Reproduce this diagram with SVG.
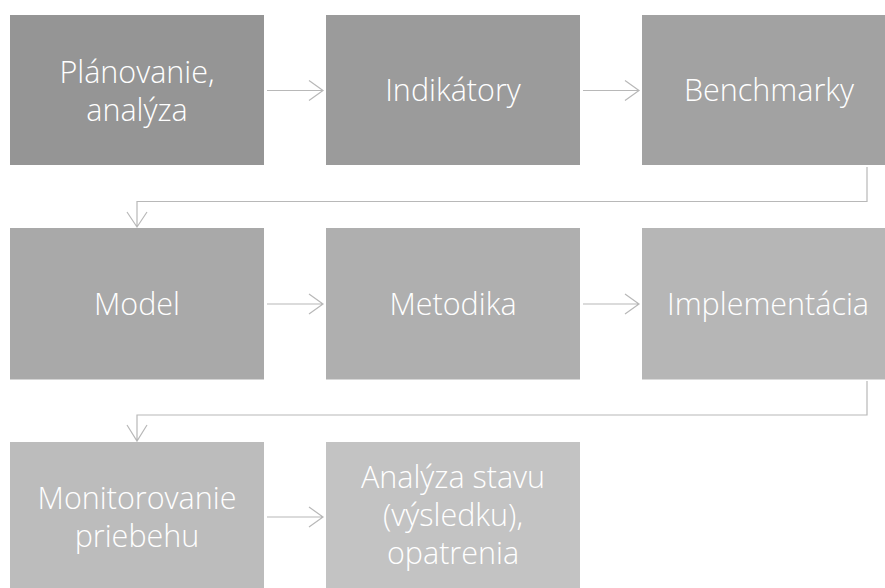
<svg xmlns="http://www.w3.org/2000/svg" width="885" height="588" viewBox="0 0 885 588">
<style>
text{font-family:"Open Sans","Noto Sans","DejaVu Sans",sans-serif;font-size:30.5px;font-weight:300;fill:#ffffff;text-anchor:middle}
.c{fill:none;stroke:#b8b8b8;stroke-width:1.2}
</style>
<rect width="885" height="588" fill="#ffffff"/>
<g id="n1"><rect x="10" y="15" width="254" height="150" fill="#959595"/><text x="137" y="82.5">Plánovanie,</text><text x="137" y="121">analýza</text></g>
<g id="n2"><rect x="326" y="15" width="254" height="150" fill="#9b9b9b"/><text x="453" y="101">Indikátory</text></g>
<g id="n3"><rect x="642" y="15" width="254" height="150" fill="#a2a2a2"/><text x="769" y="101">Benchmarky</text></g>
<g id="n4"><rect x="10" y="228" width="254" height="151.5" fill="#a9a9a9"/><text x="137" y="314.5">Model</text></g>
<g id="n5"><rect x="326" y="228" width="254" height="151.5" fill="#afafaf"/><text x="453" y="314.5">Metodika</text></g>
<g id="n6"><rect x="642" y="228" width="254" height="151.5" fill="#b6b6b6"/><text x="768" y="314.5">Implementácia</text></g>
<g id="n7"><rect x="10" y="442" width="254" height="150" fill="#bcbcbc"/><text x="137" y="509">Monitorovanie</text><text x="137" y="547">priebehu</text></g>
<g id="n8"><rect x="326" y="442" width="254" height="150" fill="#c3c3c3"/><text x="453" y="487.5">Analýza stavu</text><text x="453" y="525.5">(výsledku),</text><text x="453" y="563.5">opatrenia</text></g>
<g id="connectors">
<path class="c" d="M267 90.5H323M309 80.5L323 90.5L309 100.5"/>
<path class="c" d="M583 90.5H639M625 80.5L639 90.5L625 100.5"/>
<path class="c" d="M867 167V201.5H137V227M127 212L137 227L147 212"/>
<path class="c" d="M267 304H323M309 294L323 304L309 314"/>
<path class="c" d="M583 304H639M625 294L639 304L625 314"/>
<path class="c" d="M867 381V415H137V441M127 425L137 441L147 425"/>
<path class="c" d="M267 517H323M309 507L323 517L309 527"/>
</g>
</svg>
